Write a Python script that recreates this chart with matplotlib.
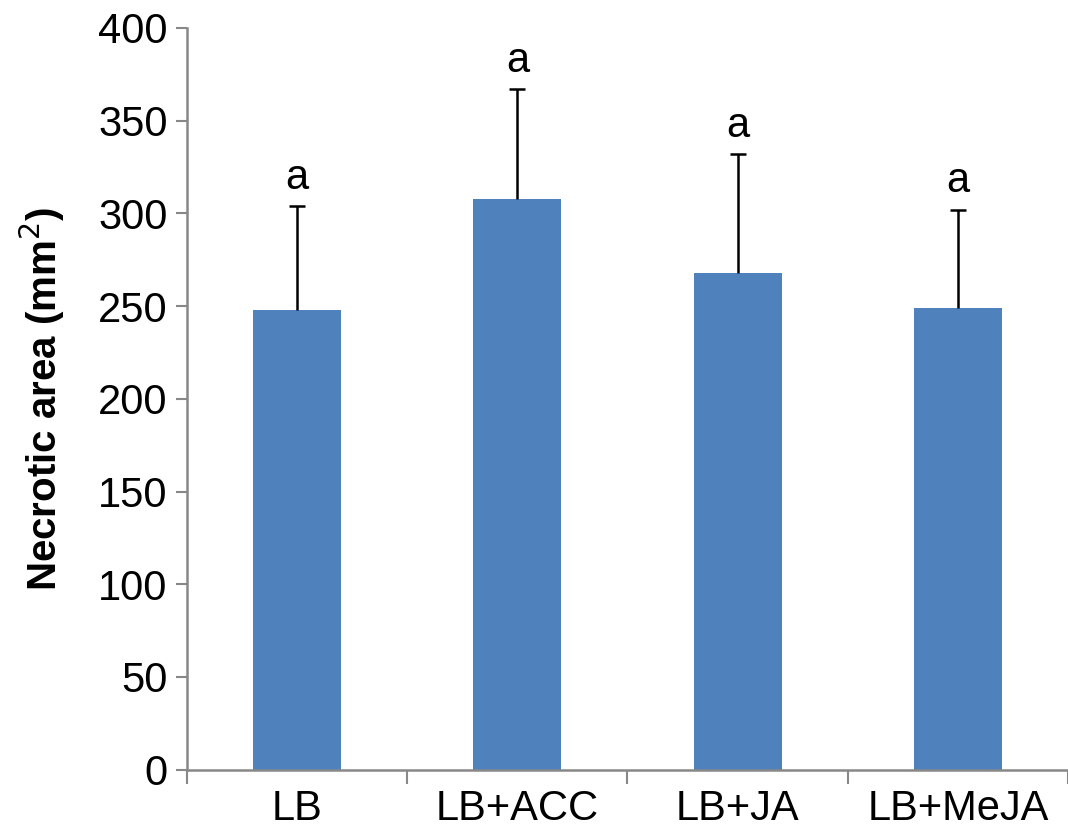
import matplotlib.pyplot as plt
import numpy as np

plt.rcParams['font.family'] = ['Liberation Sans', 'DejaVu Sans']

# Área necrótica média por tratamento (mm²) e desvio padrão
tratamentos = ['LB', 'LB+ACC', 'LB+JA', 'LB+MeJA']
area_media = [248, 308, 268, 249]
area_std = [56, 59, 64, 53]
letras = ['a', 'a', 'a', 'a']

fig = plt.figure(figsize=(10.68, 8.38), dpi=100)
ax = fig.add_axes([0.175, 0.0816, 0.825, 0.885])

x = np.arange(len(tratamentos))
ax.bar(x, area_media, width=0.4, color='#4F81BD', zorder=2)
_, caps, _ = ax.errorbar(x, area_media, yerr=[np.zeros(len(x)), area_std], fmt='none',
                         ecolor='black', elinewidth=1.8, capsize=6, capthick=1.8, zorder=3)
# Só a barra de erro superior tem traço horizontal
caps[0].set_visible(False)

# Letras de significância acima das barras de erro
for xi, m, s, l in zip(x, area_media, area_std, letras):
    ax.annotate(l, (xi, m + s), xytext=(0, 6), textcoords='offset points',
                ha='center', va='bottom', fontsize=30)

ax.set_xlim(-0.5, len(tratamentos) - 0.5)
ax.set_ylim(0, 400)
ax.set_yticks(np.arange(0, 401, 50))
ax.set_xticks(x)
ax.set_xticklabels(tratamentos)
ax.set_xticks(np.arange(-0.5, len(tratamentos)), minor=True)

ax.tick_params(axis='y', labelsize=30, length=8, width=1.5, color='#888888', pad=6)
ax.tick_params(axis='x', which='major', labelsize=30, length=0, pad=14)
ax.tick_params(axis='x', which='minor', length=10, width=1.5, color='#888888')

for side in ['top', 'right']:
    ax.spines[side].set_visible(False)
for side in ['left', 'bottom']:
    ax.spines[side].set_color('#888888')
    ax.spines[side].set_linewidth(1.8)

ax.set_ylabel('Necrotic area (mm$^{2}$)', fontsize=29, fontweight='bold', labelpad=22)

fig.savefig('out.png', dpi=100)
